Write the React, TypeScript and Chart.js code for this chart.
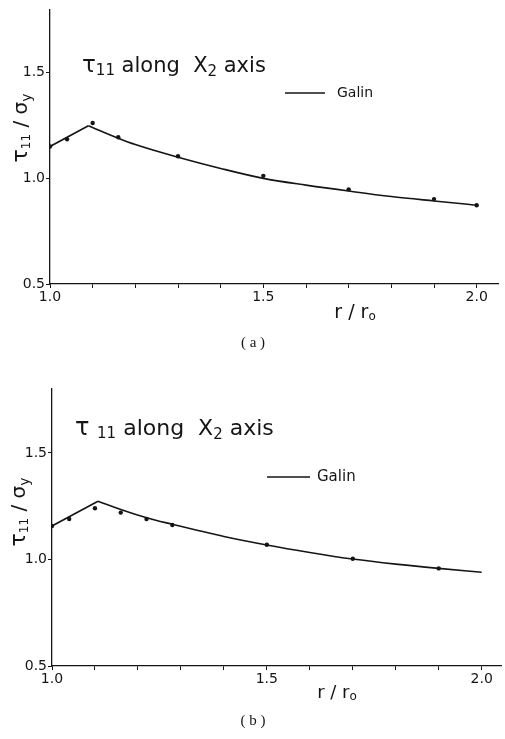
import React, { useEffect, useRef } from "react";
import { Chart, registerables } from "chart.js";

Chart.register(...registerables);

// ---- data ----
const xTickValues = [1.0, 1.1, 1.2, 1.3, 1.4, 1.5, 1.6, 1.7, 1.8, 1.9, 2.0];
const xTickLabels = ["1.0", "1.5", "2.0"];
const yTickValues = [0.5, 1.0, 1.5];

// (a) Galin curve (peak index marks the kink) and computed points
const rLineA = [1.0, 1.09, 1.16, 1.2, 1.3, 1.4, 1.5, 1.6, 1.7, 1.8, 1.9, 2.0];
const tauLineA = [1.151, 1.249, 1.19, 1.16, 1.1, 1.047, 1.0, 0.968, 0.94, 0.914, 0.893, 0.873];
const peakA = 1;
const rPtsA = [1.0, 1.04, 1.1, 1.16, 1.3, 1.5, 1.7, 1.9, 2.0];
const tauPtsA = [1.151, 1.185, 1.262, 1.195, 1.105, 1.012, 0.948, 0.902, 0.873];

// (b) Galin curve and computed points
const rLineB = [1.0, 1.107, 1.16, 1.22, 1.28, 1.34, 1.4, 1.5, 1.6, 1.7, 1.8, 1.9, 2.0];
const tauLineB = [1.157, 1.273, 1.235, 1.196, 1.165, 1.136, 1.108, 1.068, 1.033, 1.002, 0.978, 0.958, 0.94];
const peakB = 1;
const rPtsB = [1.0, 1.04, 1.1, 1.16, 1.22, 1.28, 1.5, 1.7, 1.9];
const tauPtsB = [1.157, 1.19, 1.24, 1.22, 1.19, 1.162, 1.069, 1.003, 0.958];

const FONT = '"DejaVu Sans", "Liberation Sans", sans-serif';
const INK = "#151515";

type Part = { t: string; size: number; dy?: number };

function drawParts(ctx: CanvasRenderingContext2D, parts: Part[], x: number, y: number, align: "left" | "center") {
  let w = 0;
  for (const p of parts) {
    ctx.font = `${p.size}px ${FONT}`;
    w += ctx.measureText(p.t).width;
  }
  let cx = align === "center" ? x - w / 2 : x;
  ctx.textAlign = "left";
  ctx.textBaseline = "alphabetic";
  for (const p of parts) {
    ctx.font = `${p.size}px ${FONT}`;
    ctx.fillText(p.t, cx, y + (p.dy || 0));
    cx += ctx.measureText(p.t).width;
  }
}

type PanelCfg = {
  top: number;
  height: number;
  left: number;
  padRight: number;
  padTop: number;
  axisBottom: number;
  xMax: number;
  rLine: number[];
  tauLine: number[];
  peak: number;
  rPts: number[];
  tauPts: number[];
  title: { x: number; y: number; size: number; gap: string };
  legend: { x1: number; x2: number; y: number; tx: number; size: number };
  yTitle: { x: number; y: number; size: number };
  xTitle: { x: number; y: number; size: number };
  caption: { y: number; text: string };
};

const panelA: PanelCfg = {
  top: 0,
  height: 362,
  left: 50,
  padRight: 7,
  padTop: 6,
  axisBottom: 284,
  xMax: 2.05,
  rLine: rLineA,
  tauLine: tauLineA,
  peak: peakA,
  rPts: rPtsA,
  tauPts: tauPtsA,
  title: { x: 82, y: 72, size: 21, gap: "" },
  legend: { x1: 285, x2: 325, y: 93, tx: 337, size: 14 },
  yTitle: { x: 27, y: 128, size: 20 },
  xTitle: { x: 355, y: 318, size: 19 },
  caption: { y: 343, text: "( a )" },
};

const panelB: PanelCfg = {
  top: 370,
  height: 369,
  left: 52,
  padRight: 3,
  padTop: 19,
  axisBottom: 296,
  xMax: 2.045,
  rLine: rLineB,
  tauLine: tauLineB,
  peak: peakB,
  rPts: rPtsB,
  tauPts: tauPtsB,
  title: { x: 75, y: 65, size: 22, gap: " " },
  legend: { x1: 267, x2: 310, y: 107, tx: 317, size: 15 },
  yTitle: { x: 25, y: 142, size: 20 },
  xTitle: { x: 337, y: 328, size: 18 },
  caption: { y: 351, text: "( b )" },
};

function Panel({ cfg }: { cfg: PanelCfg }) {
  const ref = useRef<HTMLCanvasElement | null>(null);
  useEffect(() => {
    if (!ref.current) return;
    const textPlugin = {
      id: "paperText",
      afterDraw(chart: any) {
        const ctx: CanvasRenderingContext2D = chart.ctx;
        ctx.save();
        ctx.fillStyle = INK;
        ctx.strokeStyle = INK;
        // title
        const t = cfg.title;
        drawParts(
          ctx,
          [
            { t: "τ" + cfg.title.gap, size: t.size + 2 },
            { t: "11", size: Math.round(t.size * 0.7), dy: 3 },
            { t: " along  X", size: t.size },
            { t: "2", size: Math.round(t.size * 0.7), dy: 4 },
            { t: " axis", size: t.size },
          ],
          t.x,
          t.y,
          "left"
        );
        // legend
        const l = cfg.legend;
        ctx.lineWidth = 1.4;
        ctx.beginPath();
        ctx.moveTo(l.x1, l.y);
        ctx.lineTo(l.x2, l.y);
        ctx.stroke();
        ctx.font = `${l.size}px ${FONT}`;
        ctx.textBaseline = "middle";
        ctx.textAlign = "left";
        ctx.fillText("Galin", l.tx, l.y);
        // y title (rotated)
        const yt = cfg.yTitle;
        ctx.save();
        ctx.translate(yt.x, yt.y);
        ctx.rotate(-Math.PI / 2);
        drawParts(
          ctx,
          [
            { t: "τ", size: yt.size + 2 },
            { t: "11", size: Math.round(yt.size * 0.6), dy: 3 },
            { t: " / σ", size: yt.size },
            { t: "y", size: Math.round(yt.size * 0.7), dy: 4 },
          ],
          0,
          0,
          "center"
        );
        ctx.restore();
        // x title
        const xt = cfg.xTitle;
        drawParts(
          ctx,
          [
            { t: "r / r", size: xt.size },
            { t: "o", size: Math.round(xt.size * 0.65), dy: 2 },
          ],
          xt.x,
          xt.y,
          "center"
        );
        // caption
        ctx.font = `15px "Liberation Serif", serif`;
        ctx.textAlign = "center";
        ctx.textBaseline = "middle";
        ctx.fillText(cfg.caption.text, 253, cfg.caption.y);
        ctx.restore();
      },
    };

    const pts = (rs: number[], ts: number[]) => rs.map((r, i) => ({ x: r, y: ts[i] }));
    const rise = pts(cfg.rLine.slice(0, cfg.peak + 1), cfg.tauLine.slice(0, cfg.peak + 1));
    const decay = pts(cfg.rLine.slice(cfg.peak), cfg.tauLine.slice(cfg.peak));

    const lineStyle = {
      type: "line",
      borderColor: INK,
      borderWidth: 1.6,
      pointRadius: 0,
      fill: false,
    };

    const chart = new Chart(ref.current, {
      type: "scatter",
      data: {
        datasets: [
          { ...lineStyle, label: "Galin", data: rise, tension: 0 } as any,
          { ...lineStyle, label: "Galin", data: decay, cubicInterpolationMode: "monotone" } as any,
          {
            label: "computed",
            data: pts(cfg.rPts, cfg.tauPts),
            backgroundColor: INK,
            borderColor: INK,
            pointRadius: 2.2,
            pointBorderWidth: 0,
          },
        ],
      },
      options: {
        animation: false,
        responsive: false,
        maintainAspectRatio: false,
        layout: { padding: { top: cfg.padTop, right: cfg.padRight, left: 0, bottom: 0 } },
        plugins: { legend: { display: false }, tooltip: { enabled: false }, title: { display: false } },
        scales: {
          x: {
            type: "linear",
            min: 1.0,
            max: cfg.xMax,
            afterFit: (s: any) => {
              s.height = cfg.height - cfg.axisBottom;
            },
            afterBuildTicks: (s: any) => {
              s.ticks = xTickValues.map((v) => ({ value: v }));
            },
            border: { display: true, color: INK, width: 1.3 },
            grid: { drawOnChartArea: false, drawTicks: true, tickLength: 4, color: INK, lineWidth: 1 },
            ticks: {
              color: INK,
              font: { family: FONT, size: 14 },
              padding: 1,
              maxRotation: 0,
              autoSkip: false,
              callback: (v: any) => {
                const s = Number(v).toFixed(1);
                return xTickLabels.includes(s) ? s : "";
              },
            },
          },
          y: {
            type: "linear",
            min: 0.5,
            max: 1.8,
            afterFit: (s: any) => {
              s.width = cfg.left;
            },
            afterBuildTicks: (s: any) => {
              s.ticks = yTickValues.map((v) => ({ value: v }));
            },
            border: { display: true, color: INK, width: 1.3 },
            grid: { drawOnChartArea: false, drawTicks: true, tickLength: 4, color: INK },
            ticks: {
              color: INK,
              font: { family: FONT, size: 14 },
              padding: 1,
              callback: (v: any) => Number(v).toFixed(1),
            },
          },
        },
      },
      plugins: [textPlugin],
    } as any);
    return () => chart.destroy();
  }, [cfg]);
  return (
    <canvas
      ref={ref}
      width={505}
      height={cfg.height}
      style={{ position: "absolute", left: 0, top: cfg.top, width: 505, height: cfg.height }}
    />
  );
}

export default function App() {
  return (
    <div style={{ position: "absolute", left: 0, top: 0, width: 505, height: 739, background: "#fff" }}>
      <Panel cfg={panelA} />
      <Panel cfg={panelB} />
    </div>
  );
}
